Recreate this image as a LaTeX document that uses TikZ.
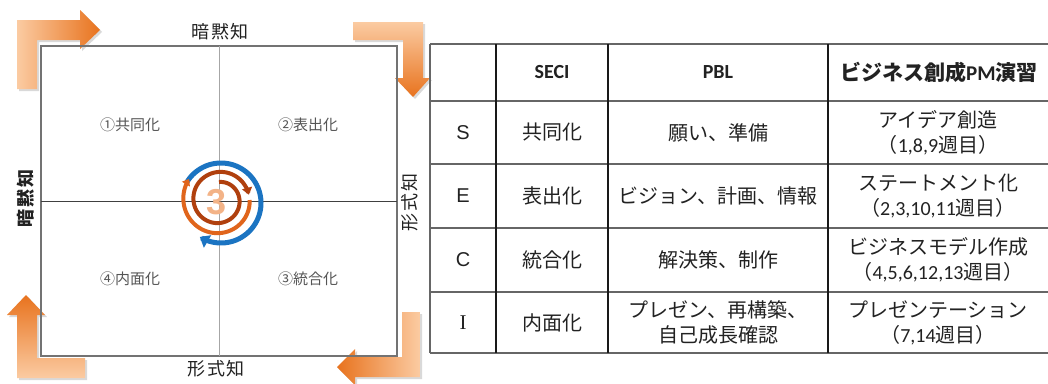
\documentclass[tikz,border=0pt]{standalone}
\usepackage{fontspec}
\setmainfont{Liberation Sans}
\newfontfamily\cjk{Noto Sans CJK JP}
\newfontfamily\carl{Carlito}
\newfontfamily\tms{Liberation Serif}
\usetikzlibrary{arrows.meta}
\definecolor{peach}{HTML}{FBCBA2}
\definecolor{orng}{HTML}{E8731E}
\definecolor{sblue}{HTML}{1B74C2}
\definecolor{sbrown}{HTML}{B0400E}
\definecolor{sorange}{HTML}{E0651C}
\definecolor{qgray}{HTML}{555555}
\definecolor{txt}{HTML}{222222}
\definecolor{threecol}{HTML}{F3B387}
\tikzset{
  shadowpoly/.style={fill=black,opacity=0.15,draw=none},
  quad/.style={font=\cjk\fontsize{15}{15}\selectfont,text=qgray,inner sep=0pt},
  axislab/.style={font=\cjk\fontsize{18}{18}\selectfont,text=txt,inner sep=0pt},
  cell/.style={font=\cjk\fontsize{20}{25}\selectfont,align=center,text=txt,inner sep=0pt},
  hdr/.style={font=\carl\bfseries\fontsize{20}{20}\selectfont,text=txt,inner sep=0pt},
  letter/.style={font=\fontsize{20}{20}\selectfont,text=txt,inner sep=0pt},
  hline/.style={draw=black!60,line width=1.8pt},
  vline/.style={draw=black!90,line width=1.1pt},
  threestyle/.style={font=\bfseries\fontsize{36}{36}\selectfont,text=threecol,inner sep=0pt},
}
\begin{document}
\begin{tikzpicture}[x=1pt,y=-1pt]
\useasboundingbox[fill=white] (0,0) rectangle (1048,383);

% ---------- corner arrows ----------
\fill[shadowpoly] (19,91) -- (19,22) -- (82,22) -- (82,12) -- (102,32) -- (82,51) -- (82,42) -- (39,42) -- (39,91) -- cycle;
\shade[left color=peach,middle color=peach,right color=orng]
  (17,89) -- (17,20) -- (80,20) -- (80,10) -- (100,30) -- (80,49) -- (80,40) -- (37,40) -- (37,89) -- cycle;
\fill[shadowpoly] (355,24) -- (425,24) -- (425,80) -- (432,80) -- (415,99) -- (397,80) -- (405,80) -- (405,42) -- (355,42) -- cycle;
\shade[top color=peach,middle color=peach,bottom color=orng]
  (353,22) -- (423,22) -- (423,78) -- (430,78) -- (413,97) -- (395,78) -- (403,78) -- (403,40) -- (353,40) -- cycle;
\fill[shadowpoly] (19,380) -- (19,317) -- (9,317) -- (28,297) -- (47,317) -- (39,317) -- (39,360) -- (87,360) -- (87,380) -- cycle;
\shade[bottom color=peach,middle color=peach,top color=orng]
  (17,378) -- (17,315) -- (7,315) -- (26,295) -- (45,315) -- (37,315) -- (37,358) -- (85,358) -- (85,378) -- cycle;
\fill[shadowpoly] (422,314) -- (422,379) -- (357,379) -- (357,387) -- (339,369) -- (357,351) -- (357,359) -- (404,359) -- (404,314) -- cycle;
\shade[right color=peach,middle color=peach,left color=orng]
  (420,312) -- (420,377) -- (355,377) -- (355,385) -- (337,367) -- (355,349) -- (355,357) -- (402,357) -- (402,312) -- cycle;

% ---------- frame and axes ----------
\draw[black!55,line width=1.3pt] (41,46) rectangle (397,356);
\draw[black!35,line width=0.8pt] (219,46) -- (219,356);
\draw[black!75,line width=0.8pt] (41,201) -- (397,201);

\node[axislab] (tacit1) at (220,32) {暗\hspace{2pt}黙\hspace{2pt}知};
\node[axislab] (expl1) at (216,369) {形\hspace{2pt}式\hspace{2pt}知};
\node[axislab,font=\cjk\bfseries\fontsize{18}{18}\selectfont,rotate=90] (tacit2) at (26,198) {暗\hspace{2pt}黙\hspace{2pt}知};
\node[axislab,rotate=90] (expl2) at (410,202) {形\hspace{2pt}式\hspace{2pt}知};

\node[quad] (q1) at (130,125) {①共同化};
\node[quad] (q2) at (308,125) {②表出化};
\node[quad] (q4) at (130,279) {④内面化};
\node[quad] (q3) at (308,279) {③統合化};

% ---------- central spiral ----------
\draw[sblue,line width=5pt,-{Triangle[length=9pt,width=14pt]}]
  plot[domain=0:272,samples=90,variable=\t] ({221+40*cos(150-\t)},{203-40*sin(150-\t)});
\draw[sbrown,line width=4pt,-{Triangle[length=7pt,width=10pt]}]
  plot[domain=0:440,samples=120,variable=\t] ({219+(18+\t*0.028)*cos(90-\t)},{200-(18+\t*0.028)*sin(90-\t)});
\draw[sorange,line width=4pt,-{Triangle[length=6pt,width=9pt]}]
  plot[domain=450:665,samples=70,variable=\t] ({219+(18+\t*0.028)*cos(90-\t)},{200-(18+\t*0.028)*sin(90-\t)});
\node[threestyle] (three) at (217,202) {3};

% ---------- table ----------
\foreach \yy in {44,101,164,228,292,353}
  \draw[hline] (430,\yy) -- (1048,\yy);
\draw[draw=black!60,line width=1.3pt] (430,44) -- (430,353);
\foreach \xx in {496,608,828}
  \draw[vline] (\xx,44) -- (\xx,353);

\node[hdr] (hseci) at (552,72.5) {SECI};
\node[hdr] (hpbl) at (718,72.5) {PBL};
\node[font=\cjk\bfseries\fontsize{21}{21}\selectfont,text=txt,inner sep=0pt] (hbiz) at (939,72.5) {ビジネス創成{\carl\bfseries PM}演習};

\node[letter] (ls) at (463,132.5) {S};
\node[letter] (le) at (463,196) {E};
\node[letter] (lc) at (463,260) {C};
\node[letter,font=\tms\fontsize{21}{21}\selectfont] (li) at (463,322.5) {I};

\node[cell] (c1s) at (552,132.5) {共同化};
\node[cell] (c1e) at (552,196) {表出化};
\node[cell] (c1c) at (552,260) {統合化};
\node[cell] (c1i) at (552,322.5) {内面化};

\node[cell] (c2s) at (718,132.5) {願い、準備};
\node[cell] (c2e) at (718,196) {ビジョン、計画、情報};
\node[cell] (c2c) at (718,260) {解決策、制作};
\node[cell] (c2i) at (718,322.5) {プレゼン、再構築、\\自己成長確認};

\node[cell] (c3s) at (938,132.5) {アイデア創造\\（{\carl 1,8,9}週目）};
\node[cell] (c3e) at (938,196) {ステートメント化\\（{\carl 2,3,10,11}週目）};
\node[cell] (c3c) at (938,260) {ビジネスモデル作成\\（{\carl 4,5,6,12,13}週目）};
\node[cell] (c3i) at (938,322.5) {プレゼンテーション\\（{\carl 7,14}週目）};
\end{tikzpicture}
\end{document}
